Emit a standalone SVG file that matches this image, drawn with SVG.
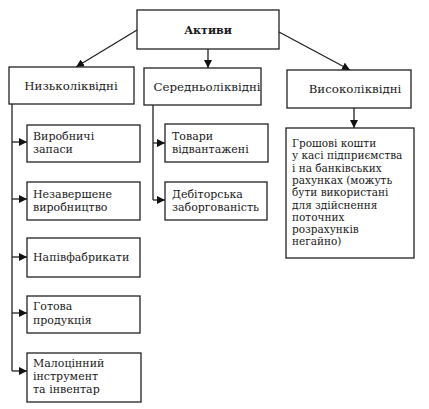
<svg xmlns="http://www.w3.org/2000/svg" width="429" height="409" viewBox="0 0 429 409">
<style>
.b{fill:#fff;stroke:#222;stroke-width:1.3}
.t{font-family:"DejaVu Serif","Liberation Serif",serif;font-size:11px;fill:#1a1a1a}
.s{font-size:10.5px}
.h{font-size:11.8px}
.c{stroke:#222;stroke-width:1.3;fill:none}
</style>
<defs>
<marker id="a" viewBox="0 0 10 10" refX="10" refY="5" markerWidth="8" markerHeight="8" markerUnits="userSpaceOnUse" orient="auto">
<path d="M0,0 L10,5 L0,10 z" fill="#111"/>
</marker>
</defs>
<rect width="429" height="409" fill="#fff"/>
<g id="connectors">
<line class="c" x1="137" y1="30" x2="76" y2="67" marker-end="url(#a)"/>
<line class="c" x1="208" y1="49" x2="208" y2="68" marker-end="url(#a)"/>
<line class="c" x1="279" y1="32" x2="350" y2="70" marker-end="url(#a)"/>
<path class="c" d="M12,104 V371"/>
<line class="c" x1="12" y1="142" x2="27" y2="142" marker-end="url(#a)"/>
<line class="c" x1="12" y1="199" x2="27" y2="199" marker-end="url(#a)"/>
<line class="c" x1="12" y1="257" x2="27" y2="257" marker-end="url(#a)"/>
<line class="c" x1="12" y1="313" x2="27" y2="313" marker-end="url(#a)"/>
<line class="c" x1="12" y1="371" x2="27" y2="371" marker-end="url(#a)"/>
<path class="c" d="M153,105 V200"/>
<line class="c" x1="153" y1="143" x2="165" y2="143" marker-end="url(#a)"/>
<line class="c" x1="153" y1="200" x2="165" y2="200" marker-end="url(#a)"/>
<line class="c" x1="354" y1="108" x2="354" y2="128" marker-end="url(#a)"/>
</g>
<g id="aktyvy">
<rect class="b" x="137" y="10" width="142" height="39"/>
<text class="t" x="208" y="34" text-anchor="middle" font-weight="bold">Активи</text>
</g>
<g id="nyzko">
<rect class="b" x="9" y="67" width="125" height="37"/>
<text class="t h" x="71" y="90" text-anchor="middle">Низьколіквідні</text>
</g>
<g id="seredno">
<rect class="b" x="144" y="68" width="117" height="37"/>
<text class="t h" x="207" y="91" text-anchor="middle">Середньоліквідні</text>
</g>
<g id="vysoko">
<rect class="b" x="287" y="70" width="124" height="38"/>
<text class="t h" x="355" y="93" text-anchor="middle">Високоліквідні</text>
</g>
<g id="vyrobnychi">
<rect class="b" x="27" y="125" width="113" height="37"/>
<text class="t" x="33" y="140">Виробничі</text>
<text class="t" x="33" y="153">запаси</text>
</g>
<g id="nezaversh">
<rect class="b" x="27" y="182" width="113" height="38"/>
<text class="t" x="33" y="198">Незавершене</text>
<text class="t" x="33" y="211">виробництво</text>
</g>
<g id="napivfab">
<rect class="b" x="27" y="238" width="113" height="39"/>
<text class="t" x="33" y="261">Напівфабрикати</text>
</g>
<g id="gotova">
<rect class="b" x="27" y="296" width="113" height="37"/>
<text class="t" x="33" y="310">Готова</text>
<text class="t" x="33" y="324">продукція</text>
</g>
<g id="malotsinnyi">
<rect class="b" x="27" y="353" width="114" height="49"/>
<text class="t" x="33" y="367">Малоцінний</text>
<text class="t" x="33" y="380">інструмент</text>
<text class="t" x="33" y="393">та інвентар</text>
</g>
<g id="tovary">
<rect class="b" x="165" y="124" width="103" height="38"/>
<text class="t" x="172" y="140">Товари</text>
<text class="t" x="172" y="153">відвантажені</text>
</g>
<g id="debitorska">
<rect class="b" x="165" y="182" width="102" height="38"/>
<text class="t" x="172" y="198">Дебіторська</text>
<text class="t" x="172" y="211">заборгованість</text>
</g>
<g id="groshovi">
<rect class="b" x="286" y="128" width="128" height="130"/>
<text class="t s" x="292" y="147">Грошові кошти</text>
<text class="t s" x="292" y="159.3">у касі підприємства</text>
<text class="t s" x="292" y="171.6">і на банківських</text>
<text class="t s" x="292" y="183.9">рахунках (можуть</text>
<text class="t s" x="292" y="196.2">бути використані</text>
<text class="t s" x="292" y="208.5">для здійснення</text>
<text class="t s" x="292" y="220.8">поточних</text>
<text class="t s" x="292" y="233.1">розрахунків</text>
<text class="t s" x="292" y="245.4">негайно)</text>
</g>
</svg>
